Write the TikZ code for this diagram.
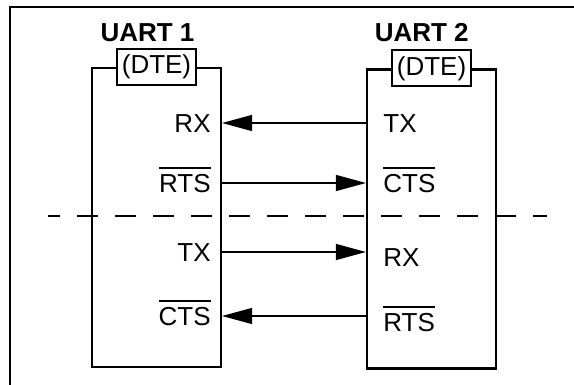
\documentclass[tikz,border=0pt]{standalone}
\usepackage{fontspec}
\setmainfont{Liberation Sans}
\usetikzlibrary{arrows.meta, positioning}
\newcommand{\sigbar}[1]{\vbox{\hrule height 0.6pt\kern 2.8pt\hbox{#1}}}
\tikzstyle{uartbox} = [rectangle, draw=black, line width=1.1pt, minimum width=64.5pt, minimum height=149.5pt, inner sep=0pt]
\tikzstyle{dte} = [rectangle, draw=black, fill=white, line width=1pt, minimum width=39.5pt, minimum height=18pt, inner sep=0pt]
\tikzstyle{uarttitle} = [anchor=base, inner sep=0pt, font=\fontsize{13pt}{15pt}\selectfont\bfseries]
\tikzstyle{sigleft} = [anchor=east, inner sep=0pt, text height=9.3pt, text depth=0pt]
\tikzstyle{sigright} = [anchor=west, inner sep=0pt, text height=9.3pt, text depth=0pt]
\tikzstyle{arrow} = [line width=0.65pt, -{Triangle[length=15pt, width=8pt]}]
\tikzstyle{cut} = [line width=0.8pt, dash pattern=on 10.5pt off 8.5pt, dash phase=4.5pt]

\begin{document}
\begin{tikzpicture}[x=0.5pt, y=-0.5pt, font=\fontsize{13pt}{15pt}\selectfont]
	\useasboundingbox (0,0) rectangle (574,385);
	\draw [line width=1pt] (10,385) |- (574,7);
	% the two UARTs
	\node (uartA) [uartbox] at (156.5,217.5) {};
	\node (uartB) [uartbox] at (431.5,219) {};
	\node (dteA) [dte] at (uartA.north) {(DTE)};
	\node (dteB) [dte] at (uartB.north) {(DTE)};
	\node (nameA) [uarttitle] at (147.5,42) {UART 1};
	\node (nameB) [uarttitle] at (421.7,42) {UART 2};
	% signals
		\node (rxA) [sigleft] at (211,123) {RX};
		\node (rtsA) [sigleft] at (211,183) {\sigbar{RTS}};
		\node (txA) [sigleft] at (211,252) {TX};
		\node (ctsA) [sigleft] at (211,316) {\sigbar{CTS}};
		\node (txB) [sigright] at (383,123) {TX};
		\node (ctsB) [sigright] at (383,183) {\sigbar{CTS}};
		\node (rxB) [sigright] at (383,257) {RX};
		\node (rtsB) [sigright] at (383,322) {\sigbar{RTS}};
	\coordinate (cutL) at (48,216);
	\coordinate (cutR) at (547,216);
	\draw [cut] (cutL) -- (cutR);
	\draw [arrow] (uartB.west |- rxA) -- (uartA.east |- rxA);
	\draw [arrow] (uartA.east |- rtsA) -- (uartB.west |- rtsA);
	\draw [arrow] (uartA.east |- txA) -- (uartB.west |- txA);
	\draw [arrow] (uartB.west |- ctsA) -- (uartA.east |- ctsA);
\end{tikzpicture}
\end{document}
